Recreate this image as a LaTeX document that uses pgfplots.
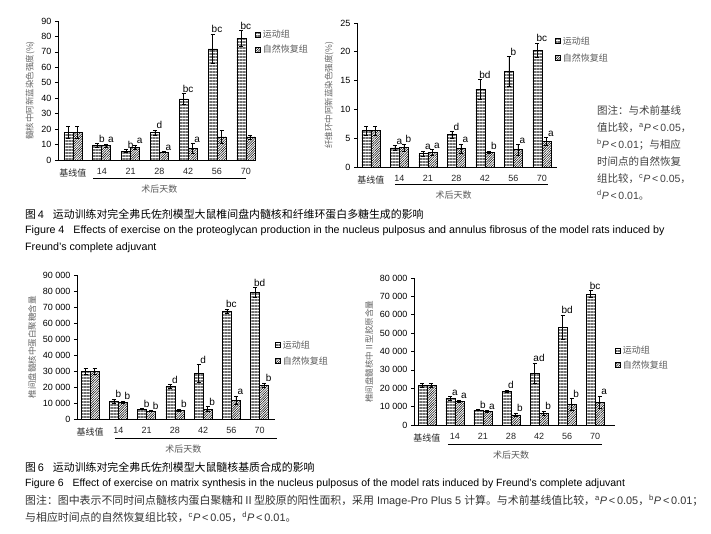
\documentclass[border=0pt]{standalone}
\usepackage{pgfplots}
\pgfplotsset{compat=1.18}
\usepackage{pgfplotstable}
\usetikzlibrary{patterns.meta}
\usepackage{fontspec}
\setmainfont{Liberation Sans}
\newfontfamily\cjk{Noto Sans CJK SC}

\pgfplotstableread{
x ea eae na nae la lb
0 18 4 18 4 {} {}
1 9.6 1.2 9.5 1.0 b a
2 5.7 1.0 8.4 1.4 b a
3 17.8 1.6 5.1 0.3 d a
4 39.6 3.4 7.6 3.0 bc a
5 72 9.4 15 4 bc {}
6 78.8 5 15 1.3 bc {}
}\tA
\pgfplotstableread{
x ea eae na nae la lb
0 6.3 0.8 6.3 0.8 {} {}
1 3.3 0.45 3.4 0.6 a b
2 2.3 0.5 2.5 0.5 a a
3 5.6 0.55 3.2 0.8 d a
4 13.5 1.7 2.6 0.2 bd b
5 16.6 2.6 3.0 0.9 b a
6 20.3 1.2 4.4 0.7 bc a
}\tB
\pgfplotstableread{
x ea eae na nae la lb
0 29800 1800 29800 1800 {} {}
1 11000 1400 10500 600 b b
2 6200 300 5000 400 b b
3 20300 1300 5600 800 d b
4 28500 5600 6200 1600 d b
5 67300 1500 11800 2700 bc a
6 79200 3000 21200 1200 bd b
}\tC
\pgfplotstableread{
x ea eae na nae la lb
0 21600 1100 21600 1100 {} {}
1 14500 900 12900 700 a a
2 8200 300 7600 400 b a
3 18400 500 5500 1000 d b
4 28200 5500 6500 1200 ad b
5 53300 6500 11300 3000 bd b
6 71300 2000 12400 3500 bc a
}\tD

\pgfplotsset{
  base/.style={
    scale only axis, ybar=0pt, bar width=9pt,
    axis x line*=bottom, axis y line*=left,
    axis line style={-, black, line width=0.8pt},
    xtick={0,...,6},
    xticklabels={{\cjk 基线值},14,21,28,42,56,70},
    x tick label style={font=\fontsize{9}{9}\selectfont, text=black!85, yshift=-2pt},
    xtick style={draw=none},
    ytick style={black, line width=0.6pt}, tick align=outside, major tick length=3pt,
    y tick label style={font=\fontsize{9}{9}\selectfont},
    /pgf/number format/assume math mode=true,
    /pgf/number format/1000 sep={\hspace{2.5pt}},
    scaled y ticks=false,
    ymin=0, clip=false,
    ylabel style={font=\cjk\fontsize{8.5}{9}\selectfont, text=black!60},
    legend style={draw=none, fill=none, font=\cjk\fontsize{9}{9}\selectfont, text=black!65,
      anchor=north west, inner sep=0pt, row sep=4pt},
    legend cell align=left,
    legend image code/.code={\draw[##1, line width=0.7pt] (0pt,-2.5pt) rectangle (5pt,2.5pt);},
  },
  ex/.style={draw=black, line width=0.6pt, pattern={Lines[angle=0,distance=1.5pt,line width=0.35pt]}, pattern color=black!55},
  nat/.style={draw=black, line width=0.6pt, pattern={Lines[angle=45,distance=1.7pt,line width=0.5pt]}, pattern color=black},
  eb/.style={error bars/.cd, y dir=both, y explicit,
    error bar style={line width=0.5pt, black},
    error mark options={rotate=90, mark size=2pt, line width=0.5pt, black}},
  lbl/.style={forget plot, sharp plot, draw=none, mark=none, nodes near coords,
    point meta=explicit symbolic,
    nodes near coords style={xshift=#1, anchor=south, inner sep=1pt, text=black, font=\fontsize{10}{10}\selectfont}},
}

\begin{document}
\begin{tikzpicture}
\useasboundingbox (0,0) rectangle (711pt,533pt);
\fill[white] (0,0) rectangle (711pt,533pt);

% ---------- Chart 1 ----------
\begin{axis}[base, at={(58pt,373pt)}, anchor=south west, width=195pt, height=139pt,
  xmin=-0.52, xmax=6.25, ymax=90, ytick={0,10,...,90},
  ylabel={髓核中阿新蓝染色强度(\%)},
  legend style={at={(1.01,0.95)}, row sep=2pt}]
\addplot[ex, eb] table[x=x, y=ea, y error=eae]{\tA}; \addlegendentry{运动组}
\addplot[nat, eb] table[x=x, y=na, y error=nae]{\tA}; \addlegendentry{自然恢复组}
\addplot[lbl=-4.5pt] table[x=x, y expr=\thisrow{ea}+\thisrow{eae}, meta=la]{\tA};
\addplot[lbl=4.5pt] table[x=x, y expr=\thisrow{na}+\thisrow{nae}, meta=lb]{\tA};
\draw[line width=0.8pt] ([yshift=-18pt]axis cs:0.7,0) -- ([yshift=-18pt]axis cs:6.0,0);
\node[font=\cjk\fontsize{9}{9}\selectfont, text=black!65] at ([yshift=-29pt]axis cs:3,0) {术后天数};
\end{axis}

% ---------- Chart 2 ----------
\begin{axis}[base, at={(357pt,366pt)}, anchor=south west, width=200pt, height=144pt,
  xmin=-0.49, xmax=6.53, ymax=25, ytick={0,5,...,25},
  ylabel={纤维环中阿新蓝染色强度(\%)},
  legend style={at={(0.99,0.92)}, row sep=4pt}]
\addplot[ex, eb] table[x=x, y=ea, y error=eae]{\tB}; \addlegendentry{运动组}
\addplot[nat, eb] table[x=x, y=na, y error=nae]{\tB}; \addlegendentry{自然恢复组}
\addplot[lbl=-4.5pt] table[x=x, y expr=\thisrow{ea}+\thisrow{eae}, meta=la]{\tB};
\addplot[lbl=4.5pt] table[x=x, y expr=\thisrow{na}+\thisrow{nae}, meta=lb]{\tB};
\draw[line width=0.8pt] ([yshift=-17pt]axis cs:0.84,0) -- ([yshift=-17pt]axis cs:6.2,0);
\node[font=\cjk\fontsize{9}{9}\selectfont, text=black!65] at ([yshift=-28pt]axis cs:2.9,0) {术后天数};
\end{axis}

% ---------- Chart 3 ----------
\begin{axis}[base, at={(77pt,114pt)}, anchor=south west, width=198pt, height=144pt,
  xmin=-0.46, xmax=6.54, ymax=90000, ytick={0,10000,...,90000},
  ylabel={椎间盘髓核中蛋白聚糖含量},
  legend style={at={(1.0,0.56)}, row sep=3pt}]
\addplot[ex, eb] table[x=x, y=ea, y error=eae]{\tC}; \addlegendentry{运动组}
\addplot[nat, eb] table[x=x, y=na, y error=nae]{\tC}; \addlegendentry{自然恢复组}
\addplot[lbl=-4.5pt] table[x=x, y expr=\thisrow{ea}+\thisrow{eae}, meta=la]{\tC};
\addplot[lbl=4.5pt] table[x=x, y expr=\thisrow{na}+\thisrow{nae}, meta=lb]{\tC};
\draw[line width=0.8pt] ([yshift=-19pt]axis cs:0.88,0) -- ([yshift=-19pt]axis cs:6.6,0);
\node[font=\cjk\fontsize{9}{9}\selectfont, text=black!65] at ([yshift=-30pt]axis cs:3.3,0) {术后天数};
\end{axis}

% ---------- Chart 4 ----------
\begin{axis}[base, at={(414pt,108pt)}, anchor=south west, width=201pt, height=147pt,
  xmin=-0.46, xmax=6.71, ymax=80000, ytick={0,10000,...,80000},
  ylabel={椎间盘髓核中Ⅱ型胶原含量},
  legend style={at={(1.0,0.55)}, row sep=1pt}]
\addplot[ex, eb] table[x=x, y=ea, y error=eae]{\tD}; \addlegendentry{运动组}
\addplot[nat, eb] table[x=x, y=na, y error=nae]{\tD}; \addlegendentry{自然恢复组}
\addplot[lbl=-4.5pt] table[x=x, y expr=\thisrow{ea}+\thisrow{eae}, meta=la]{\tD};
\addplot[lbl=4.5pt] table[x=x, y expr=\thisrow{na}+\thisrow{nae}, meta=lb]{\tD};
\draw[line width=0.8pt] ([yshift=-19pt]axis cs:0.75,0) -- ([yshift=-19pt]axis cs:6.25,0);
\node[font=\cjk\fontsize{9}{9}\selectfont, text=black!65] at ([yshift=-30pt]axis cs:3.0,0) {术后天数};
\end{axis}

% ---------- Notes and captions ----------
\node[anchor=north west, align=left, inner sep=0pt, text=black!75,
  font=\fontsize{10.5}{17}\selectfont] at (597pt,428pt)
  {{\cjk 图注：与术前基线}\\
   {\cjk 值比较，}\textsuperscript{a}\textit{P}\,<\,0.05{\cjk ，}\\
   \textsuperscript{b}\textit{P}\,<\,0.01{\cjk ；与相应}\\
   {\cjk 时间点的自然恢复}\\
   {\cjk 组比较，}\textsuperscript{c}\textit{P}\,<\,0.05{\cjk ，}\\
   \textsuperscript{d}\textit{P}\,<\,0.01{\cjk 。}};

\node[anchor=west, inner sep=0pt, font=\fontsize{10.9}{11}\selectfont] at (25pt,319pt)
  {{\cjk 图}\,4\hspace{9pt}{\cjk 运动训练对完全弗氏佐剂模型大鼠椎间盘内髓核和纤维环蛋白多糖生成的影响}};
\node[anchor=west, inner sep=0pt, font=\fontsize{10.7}{11}\selectfont] at (25pt,302pt)
  {Figure 4\hspace{9pt}Effects of exercise on the proteoglycan production in the nucleus pulposus and annulus fibrosus of the model rats induced by};
\node[anchor=west, inner sep=0pt, font=\fontsize{10.7}{11}\selectfont] at (25pt,285pt)
  {Freund’s complete adjuvant};

\node[anchor=west, inner sep=0pt, font=\fontsize{10.9}{11}\selectfont] at (25pt,66pt)
  {{\cjk 图}\,6\hspace{9pt}{\cjk 运动训练对完全弗氏佐剂模型大鼠髓核基质合成的影响}};
\node[anchor=west, inner sep=0pt, font=\fontsize{10.5}{11}\selectfont] at (25pt,49pt)
  {Figure 6\hspace{9pt}Effect of exercise on matrix synthesis in the nucleus pulposus of the model rats induced by Freund’s complete adjuvant};
\node[anchor=west, inner sep=0pt, font=\fontsize{10.9}{11}\selectfont, text=black!80] at (25pt,32pt)
  {{\cjk 图注：图中表示不同时间点髓核内蛋白聚糖和Ⅱ型胶原的阳性面积，采用} Image-Pro Plus 5 {\cjk 计算。与术前基线值比较，}\textsuperscript{a}\textit{P}\,<\,0.05{\cjk ，}\textsuperscript{b}\textit{P}\,<\,0.01{\cjk ；}};
\node[anchor=west, inner sep=0pt, font=\fontsize{10.9}{11}\selectfont, text=black!80] at (25pt,16pt)
  {{\cjk 与相应时间点的自然恢复组比较，}\textsuperscript{c}\textit{P}\,<\,0.05{\cjk ，}\textsuperscript{d}\textit{P}\,<\,0.01{\cjk 。}};
\end{tikzpicture}
\end{document}
